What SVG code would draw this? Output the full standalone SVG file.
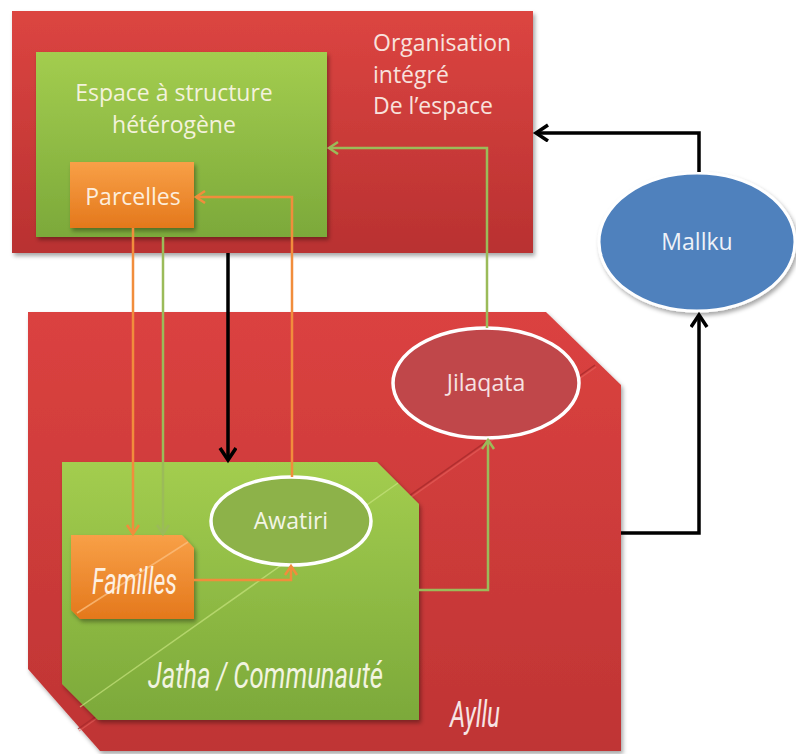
<svg xmlns="http://www.w3.org/2000/svg" width="796" height="754" viewBox="0 0 796 754">
<defs>
<style>
.lbl{font-family:"Open Sans","Liberation Sans",sans-serif;font-size:23px;font-weight:500;}
.cond{font-family:Roboto,"Liberation Sans",sans-serif;font-style:italic;font-size:36px;}
.conn{fill:none;stroke-linejoin:miter;}
.org{stroke:#f18d3c;stroke-width:2.5;}
.grn{stroke:#9bbb59;stroke-width:2.5;}
.blk{stroke:#000;stroke-width:3.5;}
.diag{stroke-width:1.5;fill:none;}
</style>
<linearGradient id="gRed" x1="0" y1="0" x2="0" y2="1">
<stop offset="0" stop-color="#dc4541"/><stop offset="1" stop-color="#b93131"/>
</linearGradient>
<linearGradient id="gRed2" x1="0" y1="0" x2="0" y2="1">
<stop offset="0" stop-color="#db4240"/><stop offset="1" stop-color="#bf3434"/>
</linearGradient>
<linearGradient id="gGreen" x1="0" y1="0" x2="0" y2="1">
<stop offset="0" stop-color="#a3cd4f"/><stop offset="1" stop-color="#7ca93a"/>
</linearGradient>
<linearGradient id="gOrange" x1="0" y1="0" x2="0" y2="1">
<stop offset="0" stop-color="#f8a047"/><stop offset="1" stop-color="#e4781c"/>
</linearGradient>
<filter id="sh" x="-10%" y="-10%" width="125%" height="125%">
<feDropShadow dx="2" dy="3" stdDeviation="2" flood-color="#000" flood-opacity="0.35"/>
</filter>
<marker id="aO" markerUnits="userSpaceOnUse" markerWidth="16" markerHeight="16" refX="11" refY="7" orient="auto">
<path d="M2,1 L11,7 L2,13" fill="none" stroke="#f18d3c" stroke-width="2.5"/>
</marker>
<marker id="aG" markerUnits="userSpaceOnUse" markerWidth="16" markerHeight="16" refX="11" refY="7" orient="auto">
<path d="M2,1 L11,7 L2,13" fill="none" stroke="#9bbb59" stroke-width="2.5"/>
</marker>
<marker id="aB" markerUnits="userSpaceOnUse" markerWidth="20" markerHeight="20" refX="14" refY="9" orient="auto">
<path d="M2,1 L14,9 L2,17" fill="none" stroke="#000" stroke-width="3.5"/>
</marker>
</defs>
<rect width="796" height="754" fill="#fff"/>

<g id="organisation">
<rect x="12" y="11" width="521" height="242" fill="url(#gRed)" filter="url(#sh)"/>
<text class="lbl" fill="#f8e2dd" x="373" y="51">Organisation</text>
<text class="lbl" fill="#f8e2dd" x="373" y="83">intégré</text>
<text class="lbl" fill="#f8e2dd" x="373" y="114">De l’espace</text>
</g>

<g id="espace">
<rect x="36" y="52" width="291" height="185" fill="url(#gGreen)" filter="url(#sh)"/>
<text class="lbl" fill="#f3f2dc" x="174" y="101" text-anchor="middle">Espace à structure</text>
<text class="lbl" fill="#f3f2dc" x="174" y="133" text-anchor="middle">hétérogène</text>
</g>

<g id="parcelles">
<rect x="70" y="162" width="124" height="66" fill="url(#gOrange)" filter="url(#sh)"/>
<text class="lbl" fill="#fdeedd" x="133" y="205" text-anchor="middle">Parcelles</text>
</g>

<g id="mallku">
<ellipse cx="697" cy="242" rx="98" ry="69" fill="#4f81bd" stroke="#ffffff" stroke-width="3" filter="url(#sh)"/>
<text class="lbl" fill="#eef2f8" x="697" y="250" text-anchor="middle">Mallku</text>
</g>

<g id="ayllu">
<polygon points="28,312 546,312 621,385 621,751 100,751 28,669" fill="url(#gRed2)" filter="url(#sh)"/>
<line class="diag" x1="78" y1="729" x2="595" y2="365" stroke="#a82a2c" stroke-opacity="0.8"/>
<line class="diag" x1="79" y1="731" x2="596" y2="367" stroke="#ec6a64" stroke-opacity="0.5" stroke-width="1"/>
<text class="cond" fill="#f6e4e4" x="450" y="727" textLength="50" lengthAdjust="spacingAndGlyphs">Ayllu</text>
</g>

<g id="jilaqata">
<ellipse cx="486" cy="383" rx="93" ry="55" fill="#c0474a" stroke="#ffffff" stroke-width="3.5"/>
<text class="lbl" fill="#f7e2e2" x="486" y="391" text-anchor="middle">Jilaqata</text>
</g>

<g id="jatha">
<polygon points="62,462 377,462 419,504 419,720 98,720 62,684" fill="url(#gGreen)" filter="url(#sh)"/>
<line class="diag" x1="80" y1="707" x2="398" y2="483" stroke="#c6e27e" stroke-opacity="0.7"/>
<text class="cond" fill="#f2f4e0" x="148" y="688" textLength="235" lengthAdjust="spacingAndGlyphs">Jatha / Communauté</text>
</g>

<g id="awatiri">
<ellipse cx="291" cy="521" rx="80" ry="44" fill="#8db249" stroke="#ffffff" stroke-width="3.5"/>
<text class="lbl" fill="#f3f5e6" x="291" y="529" text-anchor="middle">Awatiri</text>
</g>

<g id="familles">
<polygon points="71,535 182,535 194,548 194,619 80,619 71,610" fill="url(#gOrange)" filter="url(#sh)"/>
<line class="diag" x1="77" y1="613" x2="188" y2="542" stroke="#fbbd7c" stroke-opacity="0.8"/>
<text class="cond" fill="#fdf0e2" x="92" y="594" textLength="85" lengthAdjust="spacingAndGlyphs">Familles</text>
</g>

<g id="connectors">
<path class="conn org" d="M133,228 V534" marker-end="url(#aO)"/>
<path class="conn grn" d="M163,237 V534" marker-end="url(#aG)"/>
<path class="conn blk" d="M228,253 V460" marker-end="url(#aB)"/>
<path class="conn org" d="M292,477 V197 H196" marker-end="url(#aO)"/>
<path class="conn grn" d="M487,328 V148 H329" marker-end="url(#aG)"/>
<path class="conn org" d="M194,580 H291 V566" marker-end="url(#aO)"/>
<path class="conn grn" d="M419,590 H488 V440" marker-end="url(#aG)"/>
<path class="conn blk" d="M621,533 H699 V315" marker-end="url(#aB)"/>
<path class="conn blk" d="M699,172 V133 H536" marker-end="url(#aB)"/>
</g>
</svg>
